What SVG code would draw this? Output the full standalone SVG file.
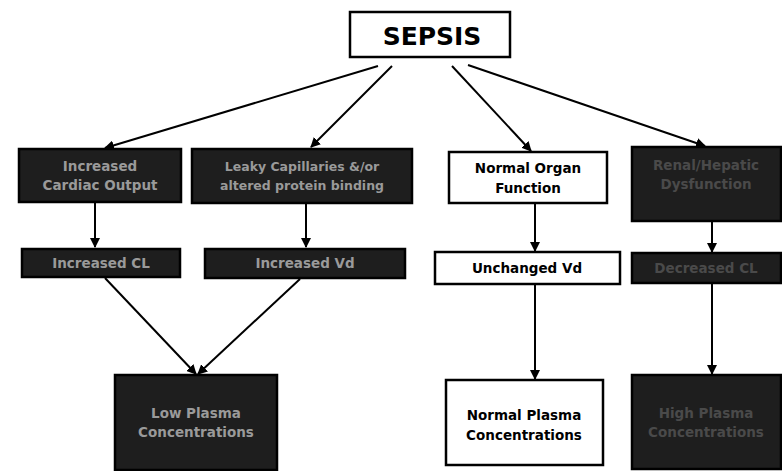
<svg xmlns="http://www.w3.org/2000/svg" width="782" height="471" viewBox="0 0 782 471">
<style>
.lt{fill:#fff;stroke:#000;stroke-width:2.5}
.dk{fill:#1e1e1e;stroke:#000;stroke-width:2.5}
.t,.td,.tf{font-family:"DejaVu Sans","Liberation Sans",Arial,sans-serif;font-weight:bold;font-size:13.5px;text-anchor:middle}
.t{fill:#000}
.td{fill:#9a9a9a}
.tf{fill:#4a4a4a}
.c{stroke:#000;stroke-width:2;fill:none;marker-end:url(#ah)}
</style>
<defs>
<marker id="ah" viewBox="0 0 10 10" refX="9" refY="5" markerWidth="5" markerHeight="5" orient="auto" markerUnits="strokeWidth">
<path d="M0,0 L10,5 L0,10 z" fill="#000"/>
</marker>
</defs>
<rect width="782" height="471" fill="#fff"/>
<g id="connectors">
<path class="c" d="M378,66 L105,148"/>
<path class="c" d="M392,66 L311,147"/>
<path class="c" d="M452,66 L531,151"/>
<path class="c" d="M468,65 L705,146"/>
<path class="c" d="M95,202 L95,247"/>
<path class="c" d="M306,203 L306,247"/>
<path class="c" d="M535,203 L535,251"/>
<path class="c" d="M712,221 L712,252"/>
<path class="c" d="M105,278 L196,374"/>
<path class="c" d="M300,279 L198,374"/>
<path class="c" d="M535,284 L535,379"/>
<path class="c" d="M712,283 L712,374"/>
</g>
<g id="sepsis">
<rect class="lt" x="350" y="12" width="160" height="45"/>
<text class="t" x="432" y="45" style="font-size:25px">SEPSIS</text>
</g>
<g id="cardiac-output">
<rect class="dk" x="19" y="149" width="162" height="53"/>
<text class="td" x="100" y="171">Increased</text>
<text class="td" x="100" y="190">Cardiac Output</text>
</g>
<g id="leaky-capillaries">
<rect class="dk" x="192" y="149" width="220" height="54"/>
<text class="td" x="302" y="171" style="font-size:12.5px">Leaky Capillaries &amp;/or</text>
<text class="td" x="302" y="190" style="font-size:12.5px">altered protein binding</text>
</g>
<g id="normal-organ">
<rect class="lt" x="449" y="152" width="158" height="51"/>
<text class="t" x="528" y="173">Normal Organ</text>
<text class="t" x="528" y="193">Function</text>
</g>
<g id="organ-dysfunction">
<rect class="dk" x="632" y="147" width="149" height="74"/>
<text class="tf" x="706" y="170">Renal/Hepatic</text>
<text class="tf" x="706" y="189">Dysfunction</text>
</g>
<g id="increased-cl">
<rect class="dk" x="22" y="249" width="158" height="28"/>
<text class="td" x="101" y="268">Increased CL</text>
</g>
<g id="increased-vd">
<rect class="dk" x="205" y="249" width="200" height="29"/>
<text class="td" x="305" y="268">Increased Vd</text>
</g>
<g id="unchanged-vd">
<rect class="lt" x="435" y="252" width="185" height="32"/>
<text class="t" x="527" y="273">Unchanged Vd</text>
</g>
<g id="decreased-cl">
<rect class="dk" x="632" y="253" width="149" height="30"/>
<text class="tf" x="706" y="273">Decreased CL</text>
</g>
<g id="low-plasma">
<rect class="dk" x="115" y="375" width="162" height="95"/>
<text class="td" x="196" y="418">Low Plasma</text>
<text class="td" x="196" y="437">Concentrations</text>
</g>
<g id="normal-plasma">
<rect class="lt" x="446" y="380" width="157" height="85"/>
<text class="t" x="524" y="420">Normal Plasma</text>
<text class="t" x="524" y="440">Concentrations</text>
</g>
<g id="high-plasma">
<rect class="dk" x="632" y="375" width="149" height="94"/>
<text class="tf" x="706" y="418">High Plasma</text>
<text class="tf" x="706" y="437">Concentrations</text>
</g>
</svg>
